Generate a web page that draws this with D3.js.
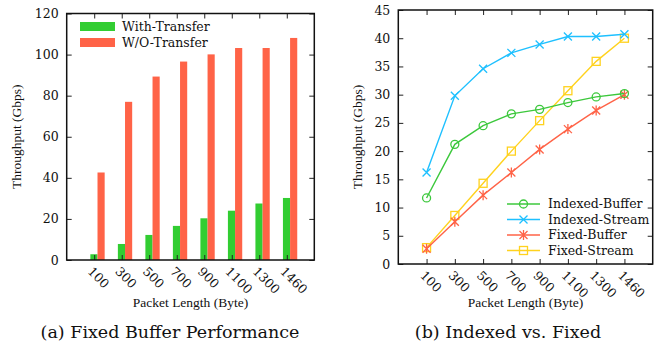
<!DOCTYPE html>
<html><head><meta charset="utf-8">
<script src="https://cdn.jsdelivr.net/npm/d3@7"></script>
<style>
body{margin:0;background:#fff}
svg text{font-family:"DejaVu Serif";fill:#111}
</style>
</head><body>
<svg id="chart" width="661" height="348"></svg>
<script>
// data
const packetSizes = ['100', '300', '500', '700', '900', '1100', '1300', '1460'];
const withTransfer = [2.8, 7.8, 12.2, 16.6, 20.3, 24.0, 27.5, 30.2];
const withoutTransfer = [42.6, 77.0, 89.3, 96.6, 100.1, 103.2, 103.2, 108.1];
const indexedBuffer = [11.7, 21.2, 24.5, 26.6, 27.4, 28.6, 29.6, 30.2];
const indexedStream = [16.2, 29.8, 34.6, 37.4, 38.9, 40.3, 40.3, 40.7];
const fixedBuffer = [2.7, 7.5, 12.2, 16.2, 20.3, 23.9, 27.2, 30.0];
const fixedStream = [2.9, 8.6, 14.3, 20.0, 25.4, 30.7, 35.9, 40.0];
const yTicksA = [0, 20, 40, 60, 80, 100, 120];
const yTicksB = [0, 5, 10, 15, 20, 25, 30, 35, 40, 45];

const svg = d3.select('#chart');
const tickFont = '12.5px', labelFont = '13.5px';

// draws frame, mirrored inward ticks and labels, returns scales
function frame(box, yMax, yTicks, xTitle, caption, captionX, yTitleOff) {
    const x = d3.scalePoint().domain(packetSizes).range([box.l, box.r]).padding(1);
    const y = d3.scaleLinear().domain([0, yMax]).range([box.b, box.t]);
    const g = svg.append('g');
    const marks = g.append('g').attr('class', 'marks');

    const left = g.append('g').attr('transform', `translate(${box.l},0)`)
        .call(d3.axisLeft(y).tickValues(yTicks).tickSizeInner(-5).tickSizeOuter(0).tickPadding(8));
    const right = g.append('g').attr('transform', `translate(${box.r},0)`)
        .call(d3.axisRight(y).tickValues(yTicks).tickSizeInner(-5).tickSizeOuter(0).tickFormat(''));
    const bottom = g.append('g').attr('transform', `translate(0,${box.b})`)
        .call(d3.axisBottom(x).tickSizeInner(-5).tickSizeOuter(0).tickFormat(''));
    const top = g.append('g').attr('transform', `translate(0,${box.t})`)
        .call(d3.axisTop(x).tickSizeInner(-5).tickSizeOuter(0).tickFormat(''));
    [left, right, bottom, top].forEach(a => {
        a.select('.domain').remove();
        a.selectAll('line').attr('stroke', '#222').attr('stroke-width', 1);
    });
    left.selectAll('text').style('font-size', tickFont).attr('fill', '#111');

    // rotated category labels
    g.selectAll('.xl').data(packetSizes).enter().append('text')
        .attr('class', 'xl')
        .attr('transform', d => `translate(${x(d) - 1},${box.b + 6}) rotate(45)`)
        .style('font-size', tickFont)
        .attr('dy', '0.7em')
        .text(d => d);

    g.append('rect').attr('x', box.l).attr('y', box.t)
        .attr('width', box.r - box.l).attr('height', box.b - box.t)
        .attr('fill', 'none').attr('stroke', '#111').attr('stroke-width', 1.5);

    g.append('text').attr('transform', `translate(${box.l - yTitleOff},${(box.t + box.b) / 2}) rotate(-90)`)
        .attr('text-anchor', 'middle').style('font-size', labelFont)
        .style('font-family', 'Liberation Serif')
        .text('Throughput (Gbps)');
    g.append('text').attr('x', (box.l + box.r) / 2).attr('y', 307)
        .attr('text-anchor', 'middle').style('font-size', labelFont)
        .style('font-family', 'Liberation Serif')
        .text(xTitle);
    g.append('text').attr('x', captionX).attr('y', 338)
        .attr('text-anchor', 'middle').style('font-size', '17.5px')
        .text(caption);
    return { x, y, g, marks };
}

/* (a) bars */
const A = frame({ l: 66.7, r: 314.3, t: 13.5, b: 260 }, 120, yTicksA,
    'Packet Length (Byte)', '(a) Fixed Buffer Performance', 170, 46);
const step = A.x.step(), bw = step * 0.26;
const barSeries = [
    { name: 'With-Transfer', vals: withTransfer, color: '#32cd32', off: -0.14 },
    { name: 'W/O-Transfer', vals: withoutTransfer, color: '#ff6347', off: 0.12 }
];
barSeries.forEach(s => {
    A.marks.append('g').selectAll('rect').data(s.vals).enter().append('rect')
        .attr('x', (d, i) => A.x(packetSizes[i]) + s.off * step)
        .attr('y', d => A.y(d))
        .attr('width', bw)
        .attr('height', d => A.y(0) - A.y(d))
        .attr('fill', s.color);
});
const legA = A.g.append('g').attr('transform', 'translate(80,22)');
barSeries.forEach((s, i) => {
    const row = legA.append('g').attr('transform', `translate(0,${i * 16})`);
    row.append('rect').attr('width', 35).attr('height', 9).attr('fill', s.color);
    row.append('text').attr('x', 42).attr('y', 9).style('font-size', tickFont).text(s.name);
});

/* (b) lines */
const B = frame({ l: 398.3, r: 652.7, t: 10, b: 264 }, 45, yTicksB,
    'Packet Length (Byte)', '(b) Indexed vs. Fixed', 508, 36);

function marker(sel, type, color) {
    const s = 4;
    if (type === 'circle') {
        sel.append('circle').attr('r', 4).attr('fill', 'none').attr('stroke', color).attr('stroke-width', 1.3);
    } else if (type === 'square') {
        sel.append('rect').attr('x', -s).attr('y', -s).attr('width', 2 * s).attr('height', 2 * s)
            .attr('fill', 'none').attr('stroke', color).attr('stroke-width', 1.3);
    } else {
        let p = `M${-s},${-s}L${s},${s}M${-s},${s}L${s},${-s}`;
        if (type === 'star') p += `M0,${-s - 1}L0,${s + 1}`;
        sel.append('path').attr('d', p).attr('stroke', color).attr('stroke-width', 1.3).attr('fill', 'none');
    }
}

const lineSeries = [
    { name: 'Indexed-Buffer', vals: indexedBuffer, color: '#3cc83c', mark: 'circle' },
    { name: 'Indexed-Stream', vals: indexedStream, color: '#1ec0ff', mark: 'cross' },
    { name: 'Fixed-Buffer', vals: fixedBuffer, color: '#ff6347', mark: 'star' },
    { name: 'Fixed-Stream', vals: fixedStream, color: '#ffd21e', mark: 'square' }
];
const line = d3.line().x((d, i) => B.x(packetSizes[i])).y(d => B.y(d));
lineSeries.slice().reverse().forEach(s => {
    const g = B.marks.append('g');
    g.append('path').datum(s.vals).attr('d', line)
        .attr('fill', 'none').attr('stroke', s.color).attr('stroke-width', 1.4);
    s.vals.forEach((v, i) => {
        marker(g.append('g').attr('transform', `translate(${B.x(packetSizes[i])},${B.y(v)})`), s.mark, s.color);
    });
});
const legB = B.g.append('g').attr('transform', 'translate(507,204)');
lineSeries.forEach((s, i) => {
    const row = legB.append('g').attr('transform', `translate(0,${i * 15.5})`);
    row.append('line').attr('x1', 0).attr('x2', 33).attr('stroke', s.color).attr('stroke-width', 1.4);
    marker(row.append('g').attr('transform', 'translate(16.5,0)'), s.mark, s.color);
    row.append('text').attr('x', 41).attr('dy', '0.35em').style('font-size', tickFont).text(s.name);
});
</script>
</body></html>
